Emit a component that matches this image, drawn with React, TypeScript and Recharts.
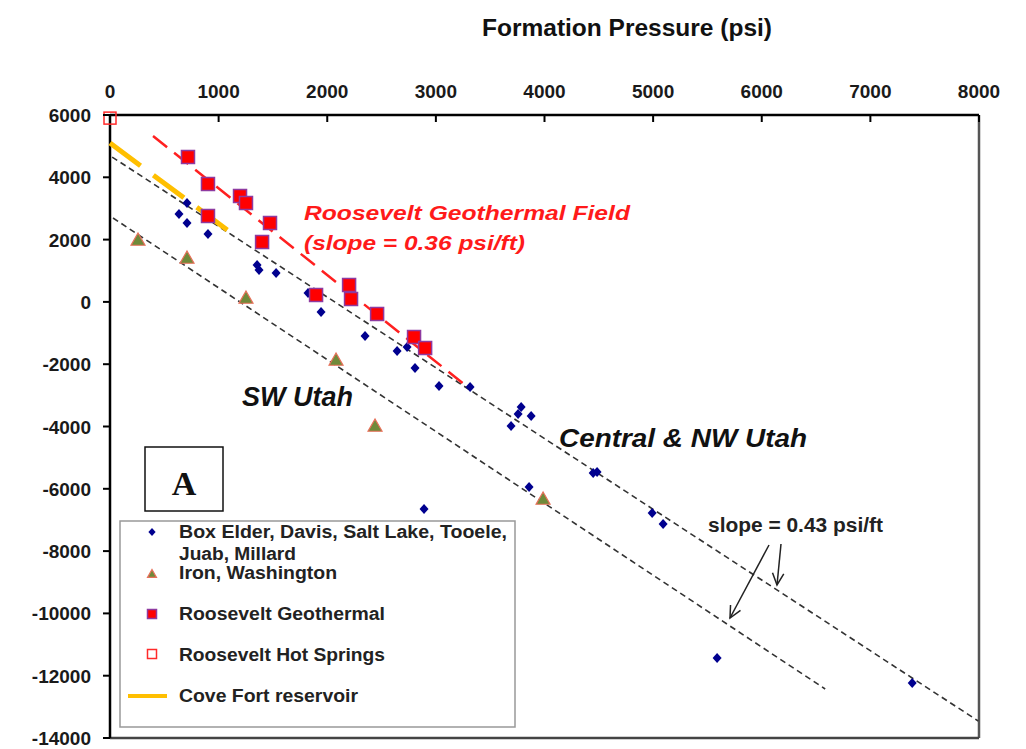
import React from 'react';
import { ScatterChart, Scatter, XAxis, YAxis, ReferenceLine } from 'recharts';

// axis ticks
const xTicks = [0, 1000, 2000, 3000, 4000, 5000, 6000, 7000, 8000];
const yTicks = [6000, 4000, 2000, 0, -2000, -4000, -6000, -8000, -10000, -12000, -14000];

// Box Elder, Davis, Salt Lake, Tooele, Juab, Millard
const boxElderP = [709, 635, 709, 902, 1354, 1372, 1529, 1823, 1943, 2348, 2643, 2735, 2808, 3029, 3315, 3785, 3757, 3877, 3692, 3858, 2891, 4448, 4484, 4991, 5092, 5589, 7385];
const boxElderE = [3175, 2822, 2533, 2180, 1185, 1024, 928, 286, -324, -1095, -1576, -1448, -2122, -2700, -2732, -3374, -3599, -3663, -3984, -5942, -6648, -5493, -5461, -6777, -7130, -11432, -12234];

// Iron, Washington
const ironP = [258, 709, 1252, 2081, 2440, 3987];
const ironE = [1987, 1409, 125, -1865, -3984, -6327];

// Roosevelt Geothermal
const rooseveltP = [718, 902, 1197, 1252, 902, 1473, 1400, 1897, 2201, 2219, 2459, 2799, 2901];
const rooseveltE = [4652, 3785, 3400, 3175, 2758, 2533, 1923, 222, 543, 93, -388, -1127, -1480];

// Roosevelt Hot Springs
const hotSpringsP = [0];
const hotSpringsE = [5900];

// trend lines (end points)
const rooseveltLineP = [396, 3315];
const rooseveltLineE = [5326, -2796];
const centralLineP = [20, 7993];
const centralLineE = [4650, -13454];
const swLineP = [28, 6584];
const swLineE = [2693, -12427];
const coveFortP = [0, 1105];
const coveFortE = [5101, 2244];

const pts = (p: number[], e: number[]) => p.map((v, i) => ({ p: v, e: e[i] }));

const FONT = '"Liberation Sans", Arial, sans-serif';

const Diamond = ({ cx, cy, r = 5 }: any) => (
  <polygon points={`${cx},${cy - r} ${cx + r * 0.9},${cy} ${cx},${cy + r} ${cx - r * 0.9},${cy}`} fill="#00008f" />
);
const Tri = ({ cx, cy, s = 7 }: any) => (
  <polygon
    points={`${cx},${cy - s} ${cx + s},${cy + s * 0.75} ${cx - s},${cy + s * 0.75}`}
    fill="#6f8a3a"
    stroke="#e8705a"
    strokeWidth={1.2}
  />
);
const RedSquare = ({ cx, cy, s = 13 }: any) => (
  <rect x={cx - s / 2} y={cy - s / 2} width={s} height={s} fill="#ff0000" stroke="#8e3aa0" strokeWidth={1.5} />
);
const OpenSquare = ({ cx, cy, s = 12 }: any) => (
  <rect x={cx - s / 2} y={cy - s / 2} width={s} height={s} fill="none" stroke="#ff2a2a" strokeWidth={1.5} />
);
const NoDot = () => <g />;

const XTick = ({ x, y, payload }: any) => (
  <g>
    <line x1={x} y1={y} x2={x} y2={y + 7} stroke="#000" strokeWidth={2} />
    <text x={x} y={y - 17} textAnchor="middle" fontFamily={FONT} fontWeight="bold" fontSize={19} fill="#1a1a1a">
      {payload.value}
    </text>
  </g>
);

const YTick = ({ x, y, payload }: any) => (
  <g>
    <line x1={x - 7} y1={y} x2={x} y2={y} stroke="#000" strokeWidth={2} />
    <text x={x - 19} y={y + 7} textAnchor="end" fontFamily={FONT} fontWeight="bold" fontSize={19} fill="#1a1a1a">
      {payload.value}
    </text>
  </g>
);

const Arrow = ({ x1, y1, x2, y2 }: any) => {
  const a = Math.atan2(y2 - y1, x2 - x1);
  const L = 13;
  const w = 0.45;
  const h1 = [x2 - L * Math.cos(a - w), y2 - L * Math.sin(a - w)];
  const h2 = [x2 - L * Math.cos(a + w), y2 - L * Math.sin(a + w)];
  return (
    <g stroke="#222" strokeWidth={1.5} fill="none">
      <line x1={x1} y1={y1} x2={x2} y2={y2} />
      <polyline points={`${h1[0]},${h1[1]} ${x2},${y2} ${h2[0]},${h2[1]}`} />
    </g>
  );
};

const legendRows = [
  { label: 'Box Elder, Davis, Salt Lake, Tooele,', y: 538, len: 328 },
  { label: 'Juab, Millard', y: 560, len: 117 },
  { label: 'Iron, Washington', y: 579, len: 158 },
  { label: 'Roosevelt Geothermal', y: 620, len: 206 },
  { label: 'Roosevelt Hot Springs', y: 661, len: 206 },
  { label: 'Cove Fort reservoir', y: 702, len: 179 },
];

export default function App() {
  return (
    <div style={{ position: 'relative', width: 1026, height: 749, background: '#fff', overflow: 'hidden' }}>
      <style>{'html, body { margin: 0; padding: 0; background: #fff; }'}</style>
      <ScatterChart width={1026} height={749} margin={{ top: 75, right: 47, bottom: 11, left: 0 }}>
        <XAxis
          type="number"
          dataKey="p"
          orientation="top"
          domain={[0, 8000]}
          ticks={xTicks}
          interval={0}
          height={40}
          tickSize={0}
          tickMargin={0}
          tickLine={false}
          axisLine={{ stroke: '#000', strokeWidth: 2.5 }}
          tick={XTick}
        />
        <YAxis
          type="number"
          dataKey="e"
          domain={[-14000, 6000]}
          ticks={yTicks}
          interval={0}
          width={110}
          tickSize={0}
          tickMargin={0}
          tickLine={false}
          axisLine={{ stroke: '#000', strokeWidth: 2.5 }}
          tick={YTick}
        />
        <ReferenceLine x={8000} stroke="#555" strokeWidth={2.5} />
        <ReferenceLine y={-14000} stroke="#444" strokeWidth={2.5} />
        <Scatter
          data={pts(centralLineP, centralLineE)}
          line={{ stroke: '#333', strokeWidth: 1.6, strokeDasharray: '6 4' }}
          stroke="#333"
          shape={NoDot}
          isAnimationActive={false}
        />
        <Scatter
          data={pts(swLineP, swLineE)}
          line={{ stroke: '#333', strokeWidth: 1.6, strokeDasharray: '6 4' }}
          stroke="#333"
          shape={NoDot}
          isAnimationActive={false}
        />
        <Scatter
          data={pts(coveFortP, coveFortE)}
          line={{ stroke: '#ffbf00', strokeWidth: 5, strokeDasharray: '38 16' }}
          stroke="#ffbf00"
          shape={NoDot}
          isAnimationActive={false}
        />
        <Scatter
          data={pts(rooseveltLineP, rooseveltLineE)}
          line={{ stroke: '#ff2020', strokeWidth: 2.5, strokeDasharray: '18 9' }}
          stroke="#ff2020"
          shape={NoDot}
          isAnimationActive={false}
        />
        <Scatter data={pts(boxElderP, boxElderE)} shape={Diamond} isAnimationActive={false} />
        <Scatter data={pts(ironP, ironE)} shape={Tri} isAnimationActive={false} />
        <Scatter data={pts(rooseveltP, rooseveltE)} shape={RedSquare} isAnimationActive={false} />
        <Scatter data={pts(hotSpringsP, hotSpringsE)} shape={OpenSquare} isAnimationActive={false} />
      </ScatterChart>
      <svg
        width={1026}
        height={749}
        style={{ position: 'absolute', left: 0, top: 0, pointerEvents: 'none' }}
        fontFamily={FONT}
        fontWeight="bold"
      >
        <text x={482} y={36} fontSize={23} fill="#111" textLength={290} lengthAdjust="spacingAndGlyphs">
          Formation Pressure (psi)
        </text>
        <text x={304} y={220} fontSize={21} fontStyle="italic" fill="#ff1a1a" textLength={326} lengthAdjust="spacingAndGlyphs">
          Roosevelt Geothermal Field
        </text>
        <text x={304} y={250} fontSize={21} fontStyle="italic" fill="#ff1a1a" textLength={221} lengthAdjust="spacingAndGlyphs">
          (slope = 0.36 psi/ft)
        </text>
        <text x={242} y={406} fontSize={28} fontStyle="italic" fill="#111" textLength={111} lengthAdjust="spacingAndGlyphs">
          SW Utah
        </text>
        <text x={559} y={447} fontSize={26} fontStyle="italic" fill="#111" textLength={248} lengthAdjust="spacingAndGlyphs">
          Central &amp; NW Utah
        </text>
        <text x={708} y={532} fontSize={20} fill="#222" textLength={175} lengthAdjust="spacingAndGlyphs">
          slope = 0.43 psi/ft
        </text>
        <Arrow x1={769} y1={545} x2={730} y2={618} />
        <Arrow x1={781} y1={544} x2={777} y2={585} />

        <rect x={145} y={447} width={78} height={64} fill="#fff" stroke="#111" strokeWidth={1.5} />
        <text x={184} y={495} textAnchor="middle" fontFamily='"Liberation Serif", "Times New Roman", serif' fontSize={34} fill="#111">
          A
        </text>

        <rect x={120} y={521} width={395} height={206} fill="#fff" stroke="#999" strokeWidth={1.5} />
        <Diamond cx={152} cy={532} r={4} />
        <Tri cx={152} cy={574} s={4.5} />
        <RedSquare cx={152} cy={614} s={9} />
        <OpenSquare cx={152} cy={654} s={9} />
        <line x1={128} y1={696} x2={167} y2={696} stroke="#ffbf00" strokeWidth={4} />
        {legendRows.map((r) => (
          <text key={r.label} x={179} y={r.y} fontSize={18} fill="#222" textLength={r.len} lengthAdjust="spacingAndGlyphs">
            {r.label}
          </text>
        ))}
      </svg>
    </div>
  );
}
